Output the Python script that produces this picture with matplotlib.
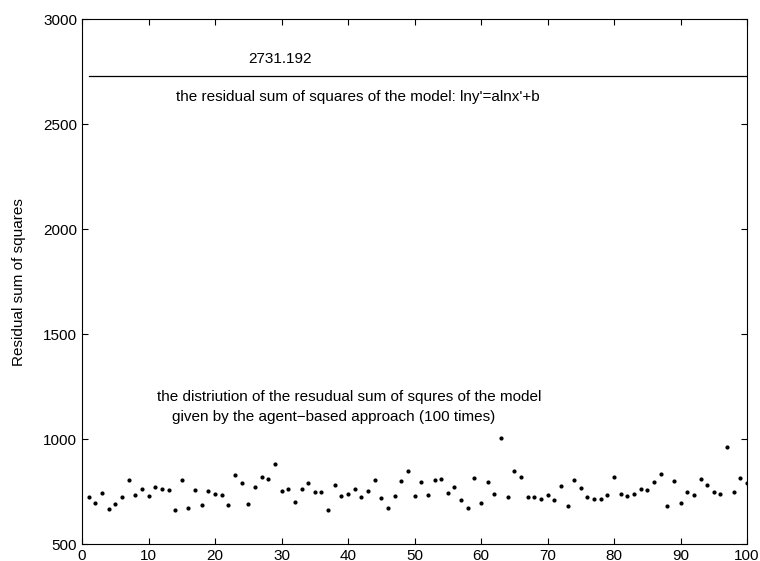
import numpy as np
import matplotlib
matplotlib.use("Agg")
import matplotlib.pyplot as plt

plt.rcParams['font.family'] = ['Liberation Sans', 'DejaVu Sans']

# residual sum of squares, agent-based approach, 100 runs
runs = np.arange(1, 101)
rss = [725, 697, 744, 668, 689, 725, 805, 735, 762, 729,
       770, 765, 757, 663, 806, 673, 757, 687, 752, 741,
       732, 687, 827, 789, 689, 770, 820, 810, 883, 754,
       763, 701, 762, 790, 749, 749, 663, 781, 727, 740,
       762, 724, 754, 805, 719, 671, 730, 800, 849, 727,
       798, 732, 805, 810, 744, 771, 708, 671, 814, 695,
       795, 740, 1006, 724, 846, 822, 725, 725, 716, 732,
       708, 778, 682, 805, 768, 725, 713, 713, 735, 822,
       738, 729, 738, 765, 759, 797, 835, 682, 800, 695,
       748, 735, 808, 784, 749, 738, 962, 749, 813, 790]
model_rss = 2731.192

fs = 11
fig = plt.figure(figsize=(7.6, 5.61), dpi=100)
ax = fig.add_axes([0.108, 0.030, 0.875, 0.936])
ax.plot(runs, rss, '.', color='black', markersize=4)
ax.plot([runs[0], runs[-1]], [model_rss, model_rss], '-', color='black', linewidth=0.9)

ax.text(29.8, 2808, f"{model_rss:.3f}", ha='center', va='center', fontsize=fs)
ax.text(41.4, 2627, "the residual sum of squares of the model: lny'=alnx'+b",
        ha='center', va='center', fontsize=fs)
ax.text(40.1, 1200, "the distriution of the resudual sum of squres of the model",
        ha='center', va='center', fontsize=fs)
ax.text(37.9, 1105, "given by the agent\u2212based approach (100 times)",
        ha='center', va='center', fontsize=fs)

ax.set_xlim(0, 100)
ax.set_ylim(500, 3000)
ax.set_xticks(range(0, 101, 10))
ax.set_yticks(range(500, 3001, 500))
ax.tick_params(direction='in', top=True, right=True, labelsize=fs, length=4.5)
ax.set_ylabel("Residual sum of squares", fontsize=fs)
ax.yaxis.set_label_coords(-0.084, 0.5)
for s in ax.spines.values():
    s.set_linewidth(0.8)

fig.savefig("out.png", dpi=100)
